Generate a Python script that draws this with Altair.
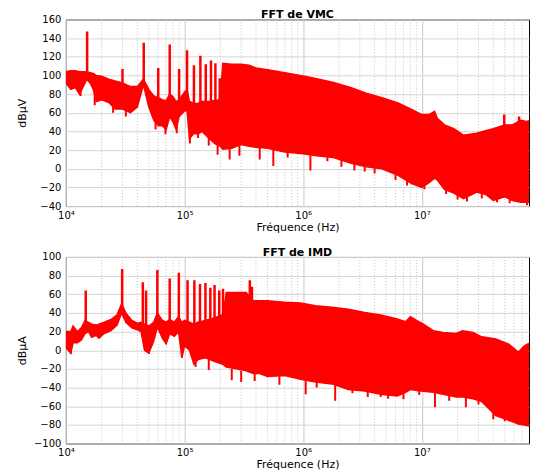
import altair as alt
import pandas as pd

# ---------------- axis ticks ----------------
x_major = [10000, 100000, 1000000, 10000000]
x_major_labels = ["10⁴", "10⁵", "10⁶", "10⁷"]
minor_mult = [2, 3, 4, 5, 6, 7, 8, 9]
x_max = 8e7
vmc_yticks = [-40, -20, 0, 20, 40, 60, 80, 100, 120, 140, 160]
imd_yticks = [-100, -80, -60, -40, -20, 0, 20, 40, 60, 80, 100]

# ---------------- FFT de VMC ----------------
vmc_f = [1.0e4, 1.1e4, 1.2e4, 1.3e4, 1.4e4, 1.5e4, 1.6e4, 1.7e4, 1.8e4, 2.0e4,
         2.3e4, 2.6e4, 3.0e4, 3.5e4, 4.0e4, 4.5e4, 5.0e4, 5.5e4, 6.0e4, 6.5e4,
         7.0e4, 7.5e4, 8.0e4, 8.5e4, 9.0e4, 1.0e5, 1.05e5, 1.1e5, 1.2e5, 1.3e5,
         1.4e5, 1.6e5, 1.8e5, 2.0e5, 2.1e5, 2.5e5, 3e5, 3.5e5, 4e5, 5e5,
         7e5, 1e6, 1.3e6, 1.8e6, 2.5e6, 3.4e6, 4.6e6, 6.3e6, 8.2e6, 1e7,
         1.15e7, 1.28e7, 1.35e7, 1.55e7, 1.86e7, 2.24e7, 2.9e7, 3.5e7, 4e7, 5e7,
         5.8e7, 6.8e7, 8e7]
vmc_hi = [104, 105, 105, 104, 104, 104, 103, 102, 100, 99,
          96, 94, 92, 88, 88, 96, 85, 78, 76, 74,
          73, 80, 77, 72, 74, 82, 85, 72, 70, 70,
          72, 72, 73, 74, 113, 112, 112, 111, 108, 106,
          103, 99.5, 96.5, 92.5, 87, 81, 76, 70.5, 63.5, 58,
          58, 61.5, 54, 47, 43, 36, 38, 41, 43, 47,
          47, 52, 50]
vmc_lo = [92, 85, 87, 80, 88, 96, 92, 85, 72, 74,
          71, 64, 64, 60, 66, 90, 66, 52, 46, 46,
          42, 56, 50, 42, 56, 62, 62, 32, 38, 37,
          40, 33, 27, 24, 21, 22, 26, 24, 23, 22,
          18, 16, 14, 12, 6, 2, 0, -7, -16, -20,
          -15, -10, -12, -22, -26, -32, -25, -28, -34, -30,
          -34, -36, -36]
vmc_peak_f = [1.51e4, 3.0e4, 4.53e4, 6.0e4, 7.5e4, 9.0e4, 1.05e5, 1.2e5, 1.36e5,
              1.51e5, 1.67e5, 1.82e5, 1.98e5, 4.95e7, 6.6e7, 7.9e7]
vmc_peak_top = [147, 107, 135, 108, 133, 107, 127, 111, 121,
                112, 116, 113, 97, 58, 56, 52]
vmc_peak_base = [100, 85, 92, 70, 75, 70, 80, 60, 60,
                 60, 60, 60, 60, 40, 45, 40]
vmc_dip_f = [1.33e4, 1.75e4, 2.5e4, 3.2e4, 5.7e4, 6.9e4, 8.6e4, 1.11e5, 1.3e5, 1.6e5,
             1.9e5, 2.4e5, 2.9e5, 4.3e5, 5.6e5, 7.4e5, 1.15e6, 1.6e6, 2.1e6, 2.7e6,
             3.3e6, 4.0e6, 5.2e6, 6.0e6, 7.5e6, 1.05e7, 1.6e7, 2.0e7, 2.4e7, 3.2e7,
             4.3e7, 5.5e7, 7.7e7]
vmc_dip_bottom = [78, 68, 60, 56, 42, 37, 38, 27, 33, 25,
                  15, 10, 14, 10, 3, 12, -2, 8, 2, -2,
                  -3, -5, -2, -12, -18, -22, -27, -33, -35, -32,
                  -36, -37, -39]
vmc_dip_top = [88, 80, 70, 66, 52, 48, 48, 40, 42, 36,
               30, 25, 28, 25, 22, 20, 16, 14, 12, 6,
               4, 2, 0, -4, -10, -17, -20, -26, -28, -25,
               -30, -30, -34]

# ---------------- FFT de IMD ----------------
imd_f = [1.0e4, 1.1e4, 1.15e4, 1.25e4, 1.35e4, 1.45e4, 1.55e4, 1.65e4, 1.8e4, 1.9e4,
         2.1e4, 2.4e4, 2.7e4, 2.95e4, 3.2e4, 3.6e4, 4.0e4, 4.3e4, 4.6e4, 5.0e4,
         5.5e4, 5.9e4, 6.5e4, 7.0e4, 7.5e4, 8.2e4, 8.9e4, 9.5e4, 1.0e5, 1.1e5,
         1.2e5, 1.3e5, 1.5e5, 1.8e5, 2.1e5, 2.25e5, 2.8e5, 3.3e5, 3.8e5, 4.3e5,
         5e5, 7e5, 9.5e5, 1.27e6, 1.75e6, 2.4e6, 3.3e6, 4.5e6, 6.2e6, 7.3e6,
         8e6, 9.1e6, 1.03e7, 1.25e7, 1.51e7, 1.95e7, 2.2e7, 2.7e7, 3.2e7, 4.2e7,
         5.4e7, 6.5e7, 7.3e7, 8e7]
imd_hi = [20, 20, 26, 20, 24, 32, 30, 28, 27, 28,
          30, 33, 38, 50, 40, 32, 29, 30, 28, 26,
          30, 40, 32, 30, 33, 30, 36, 30, 32, 30,
          28, 30, 32, 35, 38, 62, 62, 62, 53, 53,
          53, 51.4, 50.7, 47.8, 46, 44, 40.6, 37.8, 33.5, 30.6,
          36, 31.7, 28, 21, 19, 18, 21, 19, 14.4, 12,
          6.5, -2, 4.7, 7.5]
imd_lo = [3, -3, 8, 8, 11, 18, 20, 14, 16, 13,
          18, 21, 27, 40, 30, 24, 22, 20, 0, -3,
          10, 25, 13, 7, 18, 15, 20, -8, 5, 0,
          -15, -10, -8, -12, -15, -18, -20, -22, -25, -25,
          -28, -27, -31, -34, -36, -42, -43.6, -47, -49, -45,
          -42, -43, -44, -45, -47, -50, -50, -52, -55, -70,
          -75, -79, -80, -81]
imd_peak_f = [1.47e4, 2.98e4, 4.45e4, 4.74e4, 5.9e4, 7.5e4, 8.95e4, 1.06e5, 1.21e5,
              1.35e5, 1.5e5, 1.65e5, 1.79e5, 1.96e5, 2.11e5, 3.55e5, 3.7e5]
imd_peak_top = [64, 87, 73, 64, 86, 77, 83, 75, 75,
                71, 72, 67, 70, 64, 66, 75, 68]
imd_peak_base = [28, 45, 25, 25, 35, 28, 30, 25, 20,
                 20, 20, 20, 20, 20, 20, 50, 50]
imd_dip_f = [1.1e4, 5.0e4, 9.5e4, 1.24e5, 1.6e5, 2.5e5, 3.0e5, 3.9e5, 5.5e5, 6.3e5,
             1.05e6, 1.3e6, 1.86e6, 2.6e6, 3.5e6, 4.5e6, 5.2e6, 7e6, 9.5e6, 1.29e7,
             1.7e7, 2.35e7, 3.0e7, 4.0e7, 5e7]
imd_dip_bottom = [-4, -4, -8, -18, -21, -32, -34, -33, -28, -37,
                  -47, -40, -54, -46, -50, -50, -52, -52.5, -48, -61,
                  -54, -61, -58, -74, -76]
imd_dip_top = [5, 5, 0, -8, -10, -20, -22, -24, -20, -25,
               -30, -32, -35, -40, -42, -45, -46, -46, -42, -44,
               -46, -48, -52, -62, -70]

RED = "#ff0000"
FONT = "DejaVu Sans"
W, H = 464, 187

minor_f = [m * d for d in x_major for m in minor_mult if m * d < x_max]
label_expr = " : ".join(
    f"datum.value == {v} ? '{l}'" for v, l in zip(x_major, x_major_labels)
) + " : ''"


def panel(title, ytitle, ydom, yticks, f, hi, lo, pf, ptop, pbase, df_, dbot, dtop):
    xs = alt.Scale(type="log", domain=[1e4, x_max], nice=False)
    ys = alt.Scale(domain=ydom, nice=False, zero=False)
    xax = alt.Axis(values=x_major, labelExpr=label_expr, title="Fréquence (Hz)",
                   grid=True, gridColor="#c8c8c8", ticks=False, domain=False,
                   labelPadding=4, titlePadding=1, labelFlush=False)
    yax = alt.Axis(values=yticks, title=ytitle, grid=True, gridColor="#d6d6d6",
                   ticks=False, domain=False, labelPadding=5,
                   titleX=-43, titleBaseline="middle")

    minor = alt.Chart(pd.DataFrame({"f": minor_f})).mark_rule(
        color="#c4c4c4", strokeDash=[1, 2], strokeWidth=1
    ).encode(x=alt.X("f:Q", scale=xs, axis=xax))

    band = alt.Chart(pd.DataFrame({"f": f, "hi": hi, "lo": lo})).mark_area(
        color=RED, stroke=RED, strokeWidth=1.5, opacity=1, clip=True
    ).encode(
        x=alt.X("f:Q", scale=xs, axis=xax),
        y=alt.Y("hi:Q", scale=ys, axis=yax),
        y2="lo:Q",
    )

    peaks = alt.Chart(pd.DataFrame({"f": pf, "top": ptop, "base": pbase})).mark_rule(
        color=RED, strokeWidth=2.5, clip=True
    ).encode(
        x=alt.X("f:Q", scale=xs, axis=xax),
        y=alt.Y("top:Q", scale=ys, axis=yax),
        y2="base:Q",
    )

    dips = alt.Chart(pd.DataFrame({"f": df_, "bot": dbot, "top": dtop})).mark_rule(
        color=RED, strokeWidth=2, clip=True
    ).encode(
        x=alt.X("f:Q", scale=xs, axis=xax),
        y=alt.Y("bot:Q", scale=ys, axis=yax),
        y2="top:Q",
    )

    return alt.layer(minor, band, peaks, dips).properties(
        width=W, height=H,
        title=alt.Title(title, fontSize=11, fontWeight="bold", font=FONT,
                        anchor="middle", offset=-6, color="black"),
    )


top = panel("FFT de VMC", "dBµV", [-40, 160], vmc_yticks,
            vmc_f, vmc_hi, vmc_lo, vmc_peak_f, vmc_peak_top, vmc_peak_base,
            vmc_dip_f, vmc_dip_bottom, vmc_dip_top)
bottom = panel("FFT de IMD", "dBµA", [-100, 100], imd_yticks,
               imd_f, imd_hi, imd_lo, imd_peak_f, imd_peak_top, imd_peak_base,
               imd_dip_f, imd_dip_bottom, imd_dip_top)

chart = alt.vconcat(top, bottom, spacing=13).properties(
    padding={"left": 8, "top": 0, "right": 0, "bottom": 0}
).configure_view(
    stroke="black", strokeWidth=1
).configure_axis(
    labelFont=FONT, labelFontSize=10, labelColor="black",
    titleFont=FONT, titleFontSize=11, titleFontWeight="normal", titleColor="black",
)

chart.save("out.html", embed_options={"renderer": "svg", "actions": False})
